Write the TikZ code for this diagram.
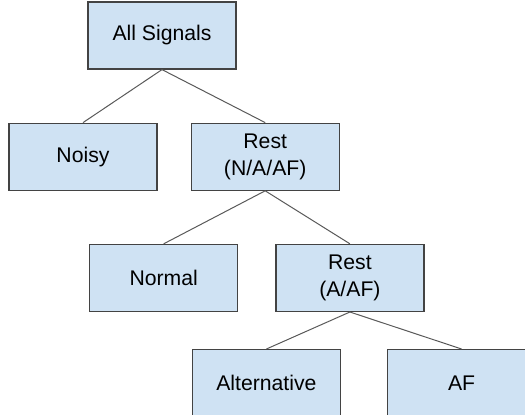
\documentclass[tikz,border=0pt]{standalone}
\usepackage{fontspec}
\setmainfont{Liberation Sans}
\usetikzlibrary{positioning}

\definecolor{boxfill}{HTML}{CFE2F3}
\definecolor{boxline}{HTML}{434343}
\definecolor{edgeline}{HTML}{595959}

\begin{document}
\begin{tikzpicture}[
    box/.style={draw=boxline, line width=0.6pt, fill=boxfill, align=center,
      font=\fontsize{10.6}{13.5}\selectfont, inner sep=2pt,
      minimum width=74pt, minimum height=33.5pt},
    edge/.style={draw=edgeline, line width=0.5pt}
  ]
    \useasboundingbox (0,0) rectangle (262.5pt,-207pt);
    \node[box] (sig) at (81pt,-17.75pt) {All Signals};
    \node[box, below=26.5pt of sig, xshift=-39.5pt] (noisy) {Noisy};
    \node[box, right=16.5pt of noisy] (restnaaf) {Rest\\(N/A/AF)};
    \node[box, below=26.5pt of restnaaf, xshift=-50.75pt] (normal) {Normal};
    \node[box, right=18.5pt of normal] (restaaf) {Rest\\(A/AF)};
    \node[box, below=18.5pt of restaaf, xshift=-41.75pt] (alt) {Alternative};
    \node[box, right=23pt of alt] (af) {AF};
    \draw[edge] (sig.south) -- (noisy.north);
    \draw[edge] (sig.south) -- (restnaaf.north);
    \draw[edge] (restnaaf.south) -- (normal.north);
    \draw[edge] (restnaaf.south) -- (restaaf.north);
    \draw[edge] (restaaf.south) -- (alt.north);
    \draw[edge] (restaaf.south) -- (af.north);
  \end{tikzpicture}
\end{document}
